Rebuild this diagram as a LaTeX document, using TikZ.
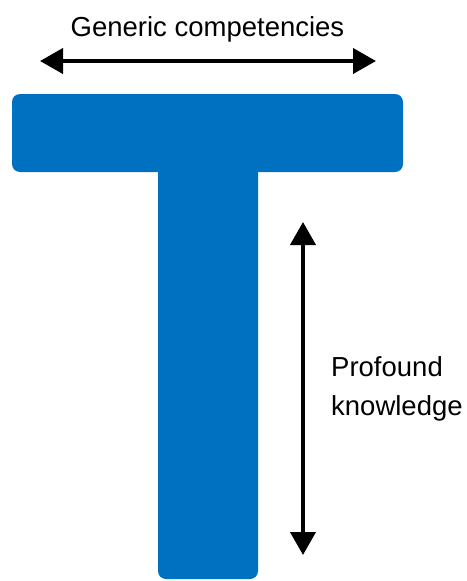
\documentclass[tikz,border=0pt]{standalone}
\usepackage{fontspec}
\setmainfont{Liberation Sans}
\usetikzlibrary{arrows.meta}
\definecolor{tblue}{HTML}{0070C0}
\tikzset{
  block/.style={fill=tblue, draw=none, rounded corners=8pt, inner sep=0pt, outer sep=0pt},
  dblarrow/.style={line width=4pt, {Triangle[width=25pt,length=23pt]}-{Triangle[width=25pt,length=23pt]}},
  lbl/.style={font=\fontsize{27.5}{40}\selectfont, inner sep=0pt}
}
\begin{document}
\begin{tikzpicture}[x=1pt,y=-1pt]
\useasboundingbox (0,0) rectangle (466,581);
% stem and bar
\node[block, minimum width=100pt, minimum height=414pt, anchor=north west] (stem) at (158,165) {};
\node[block, minimum width=391pt, minimum height=78pt, anchor=north west] (bar) at (12,94) {};
% horizontal arrow
\coordinate (hl) at (40,61);
\coordinate (hr) at (376,61);
\draw[dblarrow] (hl) -- (hr);
\node[lbl, anchor=base] (gen) at (207.5,36.5) {Generic competencies};
% vertical arrow
\coordinate (vt) at (303,222);
\coordinate (vb) at (303,555);
\draw[dblarrow] (vt) -- (vb);
\node[lbl, anchor=base west] (prof) at (331,376) {Profound};
\node[lbl, anchor=base west] (know) at (331,415) {knowledge};
\end{tikzpicture}
\end{document}
